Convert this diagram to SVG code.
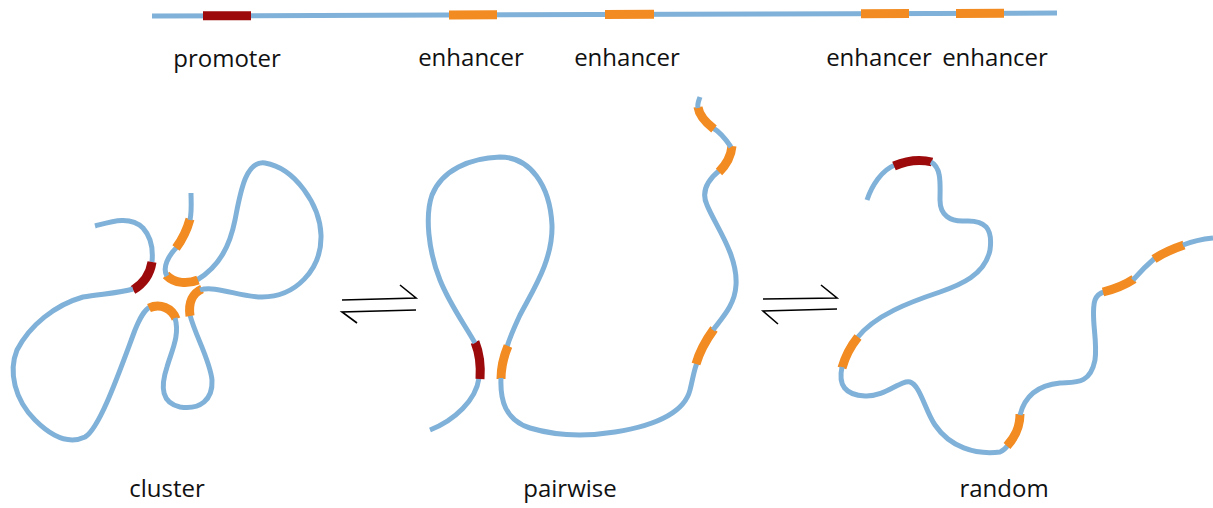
<svg xmlns="http://www.w3.org/2000/svg" width="1213" height="508" viewBox="0 0 1213 508">
  <style>
    .dna { fill: none; stroke: #80b1d8; stroke-width: 5; stroke-linecap: butt; }
    .prom { fill: none; stroke: #9c0a0c; stroke-width: 9; stroke-linecap: butt; }
    .enh { fill: none; stroke: #f28b21; stroke-width: 9; stroke-linecap: butt; }
    .eq { fill: none; stroke: #000; stroke-width: 1.6; }
    .lbl { font-family: "Open Sans", "Noto Sans", sans-serif; font-size: 24px; fill: #111; text-anchor: middle; }
  </style>

  <!-- linear map of the locus -->
  <g id="linear">
    <path class="dna" d="M152,16 L1057,13"/>
    <path class="prom" d="M203,15.8 L251,15.7"/>
    <path class="enh" d="M449,15 L497,14.8"/>
    <path class="enh" d="M605,14.5 L654,14.3"/>
    <path class="enh" d="M861,13.7 L909,13.5"/>
    <path class="enh" d="M956,13.4 L1004,13.2"/>
    <text class="lbl" x="227" y="67">promoter</text>
    <text class="lbl" x="471" y="66">enhancer</text>
    <text class="lbl" x="627" y="66">enhancer</text>
    <text class="lbl" x="879" y="66">enhancer</text>
    <text class="lbl" x="995" y="66">enhancer</text>
  </g>

  <!-- cluster conformation -->
  <g id="cluster">
    <path class="dna" d="M95,226 C110,222 130,215 143,228 C152,238 153,252 152,262"/>
    <path class="prom" d="M152,262 C150,275 143,284 133,290"/>
    <path class="dna" d="M133,289 C120,293 100,294 83,297 C55,305 30,325 17,350 C8,372 15,400 35,420 C50,435 68,445 85,437 C100,428 120,370 135,330 C140,318 144,310 150,307"/>
    <path class="enh" d="M149,308 C160,303 172,308 176,319"/>
    <path class="dna" d="M175,318 C180,335 172,350 167,367 C160,388 162,403 180,407 C200,410 213,400 212,380 C210,360 195,335 190,315"/>
    <path class="enh" d="M190,316 C188,302 193,293 202,289"/>
    <path class="dna" d="M200,290 C215,285 240,297 262,297 C295,297 322,270 321,235 C320,205 295,168 265,163 C245,160 240,195 235,220 C230,245 220,266 197,280"/>
    <path class="enh" d="M198,280 C188,284 175,284 166,275"/>
    <path class="dna" d="M167,276 C162,268 168,256 177,247"/>
    <path class="enh" d="M176,248 C182,240 187,230 190,219"/>
    <path class="dna" d="M190,220 C192,210 191,200 191,193"/>
    <text class="lbl" x="167" y="497">cluster</text>
  </g>

  <!-- pairwise conformation -->
  <g id="pairwise">
    <path class="dna" d="M430,430 C455,420 476,400 479,378"/>
    <path class="prom" d="M480,379 C481,365 479,352 475,342"/>
    <path class="dna" d="M475,343 C465,325 450,305 440,280 C428,250 425,215 432,195 C442,170 470,158 500,157 C530,157 550,185 552,225 C553,260 533,290 520,315 C513,330 509,340 507,347"/>
    <path class="enh" d="M508,346 C503,358 501,368 501,379"/>
    <path class="dna" d="M501,378 C500,400 505,420 530,428 C560,437 590,436 615,432 C660,425 685,410 690,390 C693,378 694,370 697,363"/>
    <path class="enh" d="M696,364 C700,350 706,340 714,329"/>
    <path class="dna" d="M713,330 C722,318 735,305 736,285 C738,255 715,225 707,205 C700,190 710,178 720,170"/>
    <path class="enh" d="M719,172 C726,165 731,157 732,146"/>
    <path class="dna" d="M731,147 C725,138 720,132 713,128"/>
    <path class="enh" d="M714,129 C705,122 699,115 698,107"/>
    <path class="dna" d="M698,108 C697,104 699,100 700,97"/>
    <text class="lbl" x="570" y="497">pairwise</text>
  </g>

  <!-- random conformation -->
  <g id="random">
    <path class="dna" d="M867,200 C872,185 882,170 895,165"/>
    <path class="prom" d="M894,166 C908,160 920,159 932,162"/>
    <path class="dna" d="M931,162 C942,168 940,185 940,200 C940,215 950,222 965,221 C985,220 993,228 990,250 C985,275 960,285 940,292 C910,302 875,315 857,338"/>
    <path class="enh" d="M858,337 C850,347 845,357 842,368"/>
    <path class="dna" d="M842,367 C838,385 845,395 865,396 C885,397 900,380 910,382 C920,385 925,410 935,425 C950,447 975,455 1000,452 C1005,450 1006,448 1008,445"/>
    <path class="enh" d="M1007,446 C1015,437 1020,428 1020,414"/>
    <path class="dna" d="M1020,415 C1025,395 1040,385 1060,383 C1075,382 1090,385 1095,360 C1098,340 1090,315 1095,300 C1097,295 1100,293 1104,292"/>
    <path class="enh" d="M1103,292 C1115,289 1125,285 1134,279"/>
    <path class="dna" d="M1133,280 C1140,272 1148,264 1155,258"/>
    <path class="enh" d="M1154,259 C1163,253 1172,249 1184,245"/>
    <path class="dna" d="M1183,245 C1193,241 1203,239 1213,238"/>
    <text class="lbl" x="1004" y="497">random</text>
  </g>

  <!-- equilibrium arrows between conformations -->
  <g id="connectors">
    <path class="eq" d="M342,300 L416,298 L400,285"/>
    <path class="eq" d="M416,310 L342,312 L357,323"/>
    <path class="eq" d="M763,299 L837,298 L821,285"/>
    <path class="eq" d="M837,309 L763,311 L778,324"/>
  </g>
</svg>
